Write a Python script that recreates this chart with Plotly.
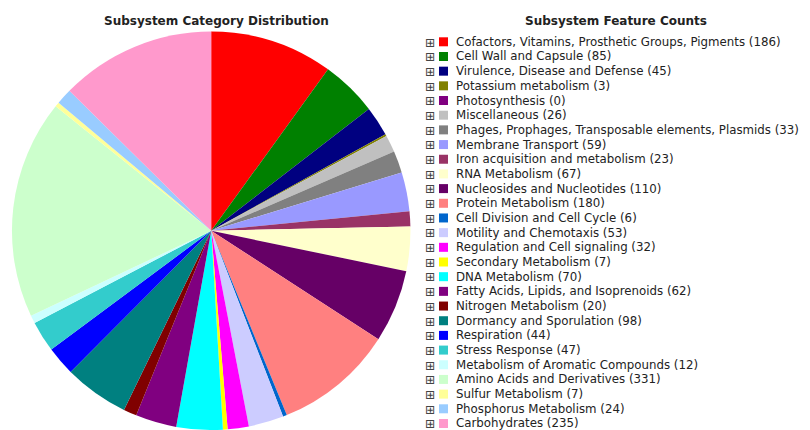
import plotly.graph_objects as go

categories = [
    "Cofactors, Vitamins, Prosthetic Groups, Pigments",
    "Cell Wall and Capsule",
    "Virulence, Disease and Defense",
    "Potassium metabolism",
    "Photosynthesis",
    "Miscellaneous",
    "Phages, Prophages, Transposable elements, Plasmids",
    "Membrane Transport",
    "Iron acquisition and metabolism",
    "RNA Metabolism",
    "Nucleosides and Nucleotides",
    "Protein Metabolism",
    "Cell Division and Cell Cycle",
    "Motility and Chemotaxis",
    "Regulation and Cell signaling",
    "Secondary Metabolism",
    "DNA Metabolism",
    "Fatty Acids, Lipids, and Isoprenoids",
    "Nitrogen Metabolism",
    "Dormancy and Sporulation",
    "Respiration",
    "Stress Response",
    "Metabolism of Aromatic Compounds",
    "Amino Acids and Derivatives",
    "Sulfur Metabolism",
    "Phosphorus Metabolism",
    "Carbohydrates",
]
counts = [186, 85, 45, 3, 0, 26, 33, 59, 23, 67, 110, 180, 6, 53, 32, 7,
          70, 62, 20, 98, 44, 47, 12, 331, 7, 24, 235]
colors = ["#FF0000", "#008000", "#000080", "#808000", "#800080", "#C0C0C0",
          "#808080", "#9999FF", "#993366", "#FFFFCC", "#660066", "#FF8080",
          "#0066CC", "#CCCCFF", "#FF00FF", "#FFFF00", "#00FFFF", "#800080",
          "#800000", "#008080", "#0000FF", "#33CCCC", "#CCFFFF", "#CCFFCC",
          "#FFFF99", "#99CCFF", "#FF99CC"]

# page body has an 8px margin; work in page pixels and convert
OX, OY = 8, 8
W, H = 810 - OX, 430 - OY


def px(x):
    return (x - OX) / W


def py(y):
    return 1 - (y - OY) / H


fig = go.Figure()
fig.add_trace(go.Pie(
    labels=categories, values=counts, sort=False, direction="clockwise",
    rotation=0, textinfo="none", showlegend=False,
    marker=dict(colors=colors, line=dict(width=0)),
    domain=dict(x=[px(11.7), px(410.7)], y=[0, py(31.5)]),
))

font = dict(family="DejaVu Sans", size=12, color="#222")
annotations = [
    dict(text="<b>Subsystem Category Distribution</b>", x=px(217), y=py(21),
         xref="paper", yref="paper", showarrow=False, xanchor="center", yanchor="middle",
         font=font),
    dict(text="<b>Subsystem Feature Counts</b>", x=px(616), y=py(21),
         xref="paper", yref="paper", showarrow=False, xanchor="center", yanchor="middle",
         font=font),
]
shapes = []
y0, dy = 41.8, 14.68
for i, (name, c, col) in enumerate(zip(categories, counts, colors)):
    yc = y0 + i * dy
    annotations.append(dict(text=f"{name} ({c})", x=px(455), y=py(yc),
                            xref="paper", yref="paper", showarrow=False,
                            xanchor="left", yanchor="middle", borderpad=0,
                            font=dict(family="DejaVu Sans", size=11.8, color="#222")))
    annotations.append(dict(text="⊞", x=px(429.5), y=py(yc + 0.3),
                            xref="paper", yref="paper", showarrow=False,
                            xanchor="center", yanchor="middle", borderpad=0,
                            font=dict(family="DejaVu Sans", size=12.5, color="#444")))
    shapes.append(dict(type="rect", xref="paper", yref="paper",
                       x0=px(439), x1=px(448), y0=py(yc + 4.5), y1=py(yc - 4.5),
                       fillcolor=col, line=dict(width=0)))

fig.update_layout(width=W, height=H, margin=dict(l=0, r=0, t=0, b=0),
                  paper_bgcolor="white", plot_bgcolor="white",
                  annotations=annotations, shapes=shapes)
fig.write_html("out.html")
